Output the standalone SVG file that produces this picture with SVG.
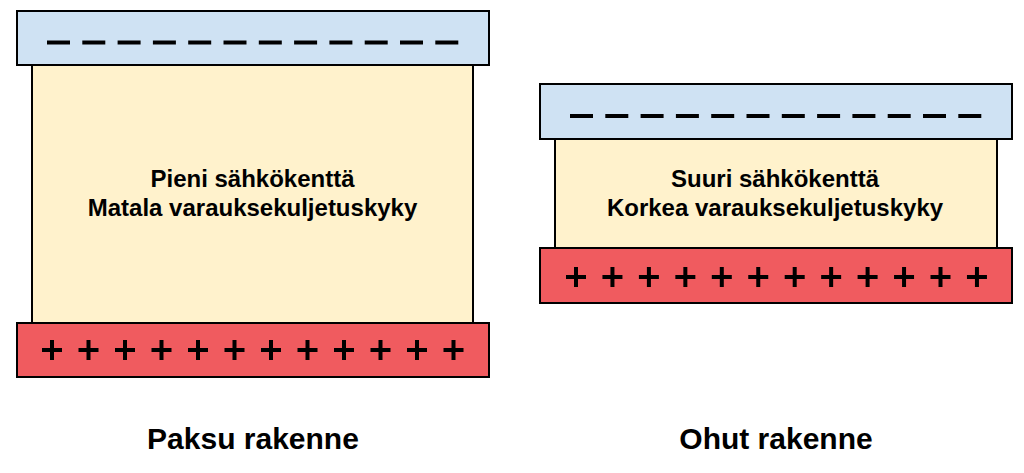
<svg xmlns="http://www.w3.org/2000/svg" xmlns:xlink="http://www.w3.org/1999/xlink" width="1024" height="473" viewBox="0 0 1024 473">
<style>
.neg{fill:#cfe2f3;stroke:#000;stroke-width:2}
.mid{fill:#fff2cc;stroke:#000;stroke-width:2}
.pos{fill:#f05b5f;stroke:#000;stroke-width:2}
.lbl{font-family:"Liberation Sans",Arial,sans-serif;font-weight:bold;font-size:24px;fill:#000;text-anchor:middle}
.ttl{font-family:"Liberation Sans",Arial,sans-serif;font-weight:bold;font-size:30px;fill:#000;text-anchor:middle}
</style>
<defs>
<path id="plus" d="M-10,0H10M0,-10V10" stroke="#000" stroke-width="4"/>
<path id="dash" d="M0,0H23" stroke="#000" stroke-width="4"/>
</defs>
<g id="thick">
<g id="thick-dielectric">
<rect class="mid" x="32" y="65" width="441" height="258"/>
<text class="lbl" x="252.5" y="187">Pieni sähkökenttä</text>
<text class="lbl" x="252.5" y="216">Matala varauksekuljetuskyky</text>
</g>
<g id="thick-negative">
<rect class="neg" x="17" y="11" width="472" height="54"/>
<g transform="translate(47,42.5)">
<use href="#dash" x="0"/><use href="#dash" x="35.3"/><use href="#dash" x="70.6"/><use href="#dash" x="105.9"/><use href="#dash" x="141.2"/><use href="#dash" x="176.5"/><use href="#dash" x="211.8"/><use href="#dash" x="247.1"/><use href="#dash" x="282.4"/><use href="#dash" x="317.7"/><use href="#dash" x="353"/><use href="#dash" x="388.3"/>
</g>
</g>
<g id="thick-positive">
<rect class="pos" x="17" y="323" width="472" height="54"/>
<g transform="translate(52,350)">
<use href="#plus" x="0"/><use href="#plus" x="36.5"/><use href="#plus" x="73"/><use href="#plus" x="109.5"/><use href="#plus" x="146"/><use href="#plus" x="182.5"/><use href="#plus" x="219"/><use href="#plus" x="255.5"/><use href="#plus" x="292"/><use href="#plus" x="328.5"/><use href="#plus" x="365"/><use href="#plus" x="401.5"/>
</g>
</g>
<text id="thick-title" class="ttl" x="253" y="449">Paksu rakenne</text>
</g>
<g id="thin">
<g id="thin-dielectric">
<rect class="mid" x="555" y="139" width="442" height="109"/>
<text class="lbl" x="775" y="187">Suuri sähkökenttä</text>
<text class="lbl" x="775" y="216">Korkea varauksekuljetuskyky</text>
</g>
<g id="thin-negative">
<rect class="neg" x="540" y="84" width="472" height="55"/>
<g transform="translate(570,116)">
<use href="#dash" x="0"/><use href="#dash" x="35.3"/><use href="#dash" x="70.6"/><use href="#dash" x="105.9"/><use href="#dash" x="141.2"/><use href="#dash" x="176.5"/><use href="#dash" x="211.8"/><use href="#dash" x="247.1"/><use href="#dash" x="282.4"/><use href="#dash" x="317.7"/><use href="#dash" x="353"/><use href="#dash" x="388.3"/>
</g>
</g>
<g id="thin-positive">
<rect class="pos" x="540" y="248" width="472" height="55"/>
<g transform="translate(576,277)">
<use href="#plus" x="0"/><use href="#plus" x="36.45"/><use href="#plus" x="72.9"/><use href="#plus" x="109.35"/><use href="#plus" x="145.8"/><use href="#plus" x="182.25"/><use href="#plus" x="218.7"/><use href="#plus" x="255.15"/><use href="#plus" x="291.6"/><use href="#plus" x="328.05"/><use href="#plus" x="364.5"/><use href="#plus" x="400.95"/>
</g>
</g>
<text id="thin-title" class="ttl" x="776" y="449">Ohut rakenne</text>
</g>
<g id="connectors"/>
</svg>
